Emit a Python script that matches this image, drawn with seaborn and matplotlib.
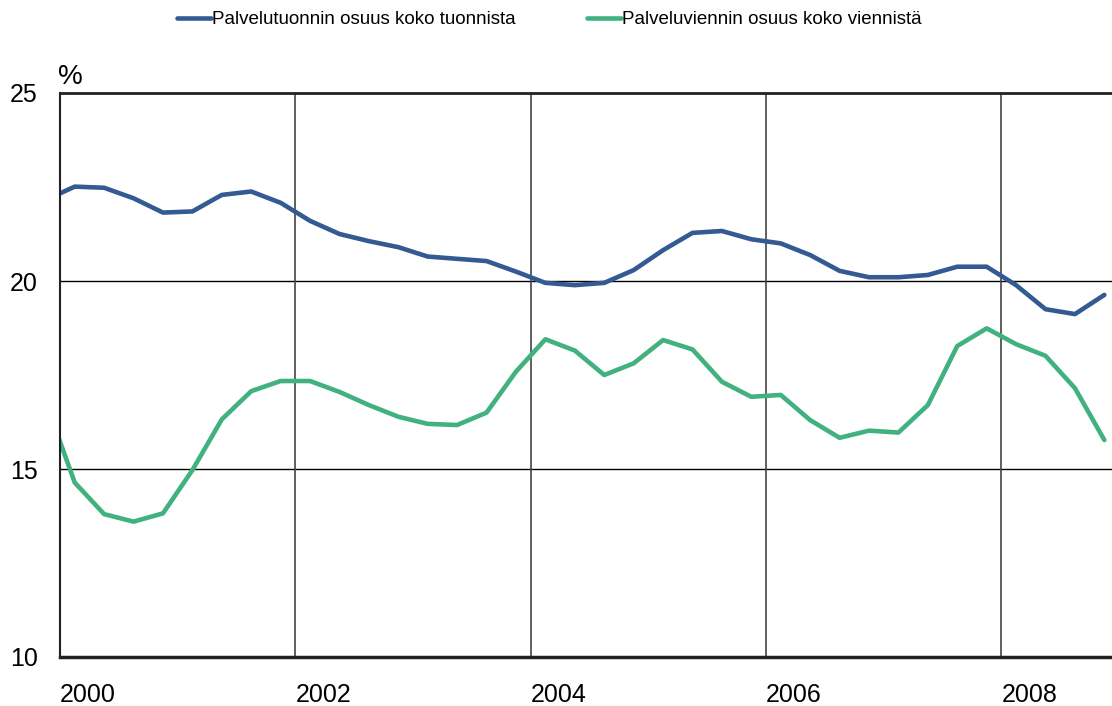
import numpy as np
import pandas as pd
import matplotlib
matplotlib.use("Agg")
import matplotlib.pyplot as plt
import seaborn as sns

# quarterly series, plotted mid-quarter (first value belongs to 1999 Q4)
tuonti = [22.15, 22.51, 22.48, 22.20, 21.82, 21.85, 22.29, 22.38, 22.08, 21.60,
          21.25, 21.06, 20.90, 20.65, 20.59, 20.53, 20.25, 19.95, 19.89, 19.95,
          20.29, 20.82, 21.28, 21.33, 21.11, 21.00, 20.69, 20.27, 20.10, 20.10,
          20.16, 20.38, 20.38, 19.89, 19.25, 19.12, 19.63]
vienti = [16.82, 14.64, 13.80, 13.60, 13.82, 14.97, 16.32, 17.07, 17.34, 17.34,
          17.05, 16.70, 16.39, 16.20, 16.17, 16.50, 17.59, 18.45, 18.15, 17.50,
          17.81, 18.43, 18.18, 17.32, 16.92, 16.97, 16.30, 15.83, 16.02, 15.97,
          16.70, 18.27, 18.74, 18.32, 18.01, 17.15, 15.77]
quarters = 1999.875 + 0.25 * np.arange(len(tuonti))

labels = ["Palvelutuonnin osuus koko tuonnista", "Palveluviennin osuus koko viennistä"]
colors = ["#345a93", "#41b17f"]
years = [2000, 2002, 2004, 2006, 2008]
yticks = [10, 15, 20, 25]

df = pd.DataFrame({
    "aika": np.concatenate([quarters, quarters]),
    "osuus": tuonti + vienti,
    "sarja": [labels[0]] * len(tuonti) + [labels[1]] * len(vienti),
})

sns.set_theme(style="white")
plt.rcParams["font.family"] = ["Liberation Sans", "DejaVu Sans"]
plt.rcParams["text.color"] = "black"
plt.rcParams["xtick.color"] = "black"
plt.rcParams["ytick.color"] = "black"

fig = plt.figure(figsize=(11.12, 7.06), dpi=100)
ax = fig.add_axes([60 / 1112, 1 - 657 / 706, 1 - 60 / 1112, (657 - 93) / 706])

sns.lineplot(data=df, x="aika", y="osuus", hue="sarja", palette=colors,
             linewidth=3.3, ax=ax, legend=False)

ax.set_xlim(2000, 2008.94)
ax.set_ylim(10, 25)

# grid lines
for y in [15, 20]:
    ax.axhline(y, color="black", linewidth=1, zorder=0)
for x in years[1:]:
    ax.axvline(x, color="#444444", linewidth=1.2, zorder=0)

ax.spines["right"].set_visible(False)
ax.spines["top"].set_color("#222222")
ax.spines["top"].set_linewidth(2)
ax.spines["bottom"].set_color("#222222")
ax.spines["bottom"].set_linewidth(2.5)
ax.spines["left"].set_color("#222222")
ax.spines["left"].set_linewidth(1.5)

ax.set_xticks(years)
ax.set_xticklabels([str(y) for y in years], fontsize=18, ha="left")
ax.set_yticks(yticks)
ax.set_yticklabels([str(y) for y in yticks], fontsize=18)
ax.tick_params(axis="x", length=0, pad=19)
ax.tick_params(axis="y", length=0, pad=16)
ax.set_xlabel("")
ax.set_ylabel("")
ax.text(-0.002, 1.005, "%", transform=ax.transAxes, fontsize=20, ha="left", va="bottom")

handles = [plt.Line2D([], [], color=c, linewidth=3.3) for c in colors]
fig.legend(handles, labels, loc="upper center", bbox_to_anchor=(0.494, 1.008),
           ncol=2, frameon=False, fontsize=13.5, handlelength=1.8,
           handletextpad=0.05, columnspacing=3.8)

fig.savefig("out.png", dpi=100)
